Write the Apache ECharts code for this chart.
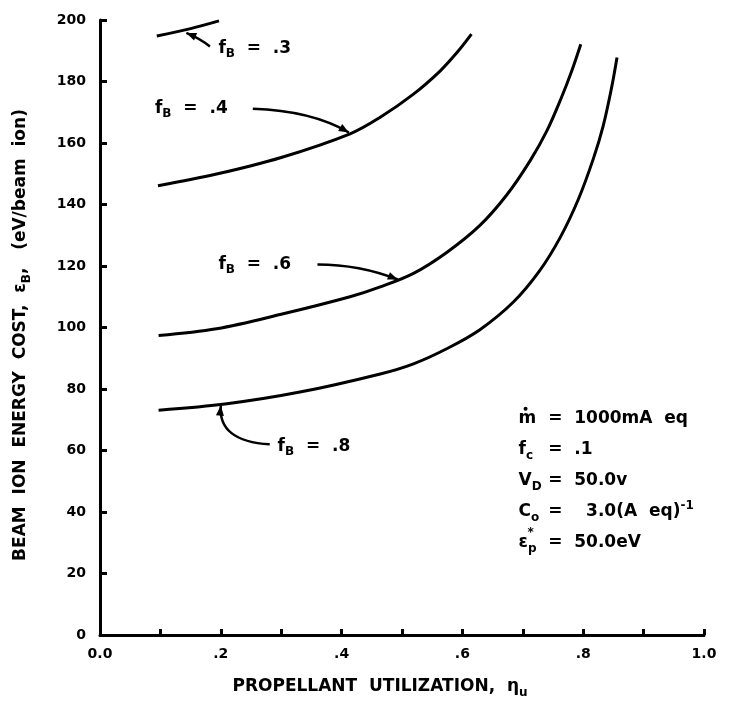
<!DOCTYPE html>
<html>
<head>
<meta charset="utf-8">
<script src="https://cdn.jsdelivr.net/npm/echarts@6/dist/echarts.min.js"></script>
<style>html,body{margin:0;padding:0;background:#fff}#c{width:737px;height:704px}</style>
</head>
<body>
<div id="c"></div>
<script>
// ---- data ----
const xTicks = [0.0, 0.2, 0.4, 0.6, 0.8, 1.0];
const xTickLabels = ['0.0', '.2', '.4', '.6', '.8', '1.0'];
const yTicks = [0, 20, 40, 60, 80, 100, 120, 140, 160, 180, 200];

const fB3_x = [0.094, 0.15, 0.197];
const fB3_y = [194.8, 197.2, 199.7];

const fB4_x = [0.096, 0.193, 0.30, 0.414, 0.464, 0.519, 0.563, 0.591, 0.615];
const fB4_y = [146.1, 149.9, 155.3, 163.0, 168.4, 175.9, 183.4, 189.4, 195.4];

const fB6_x = [0.097, 0.193, 0.30, 0.414, 0.464, 0.519, 0.574, 0.629, 0.673, 0.712, 0.740, 0.764, 0.781, 0.796];
const fB6_y = [97.4, 99.6, 104.3, 110.0, 113.2, 117.6, 124.4, 133.2, 143.0, 154.2, 164.0, 174.8, 183.4, 192.1];

const fB8_x = [0.097, 0.21, 0.331, 0.464, 0.519, 0.574, 0.629, 0.684, 0.728, 0.762, 0.792, 0.817, 0.833, 0.847, 0.856];
const fB8_y = [73.1, 75.2, 79.0, 84.9, 88.2, 93.1, 99.3, 108.2, 118.5, 129.3, 141.7, 155.0, 165.5, 178.0, 187.8];

const curveNames = ['.3', '.4', '.6', '.8'];

const paramSymbols = [['m', ''], ['f', 'c'], ['V', 'D'], ['C', 'o'], ['ε', 'p']];
const paramValues = ['=  1000mA  eq', '=  .1', '=  50.0v', '=    3.0(A  eq)', '=  50.0eV'];

// ---- chart ----
const FONT = '"DejaVu Sans", sans-serif';
const chart = echarts.init(document.getElementById('c'));
function zip(xs, ys) { return xs.map((x, i) => [x, ys[i]]); }
function line(name, xs, ys) {
  return {
    name: name, type: 'line', data: zip(xs, ys), smooth: 0.35, showSymbol: false,
    lineStyle: { color: '#000', width: 3 }, silent: true, animation: false
  };
}
chart.setOption({
  animation: false,
  backgroundColor: '#fff',
  grid: { left: 100, right: 33, top: 20, bottom: 69 },
  xAxis: {
    type: 'value', min: 0, max: 1, interval: 0.1,
    axisLine: { lineStyle: { color: '#000', width: 3 } },
    axisTick: { inside: true, length: 6, lineStyle: { color: '#000', width: 3 } },
    splitLine: { show: false },
    axisLabel: {
      color: '#000', fontFamily: FONT, fontWeight: 'bold', fontSize: 14, margin: 12,
      formatter: function (v) {
        const k = Math.round(v * 10);
        if (k % 2) return '';
        const idx = xTicks.findIndex(t => Math.abs(t - v) < 1e-6);
        return idx >= 0 ? xTickLabels[idx] : '';
      }
    }
  },
  yAxis: {
    type: 'value', min: yTicks[0], max: yTicks[yTicks.length - 1], interval: 20,
    axisLine: { show: true, lineStyle: { color: '#000', width: 3 } },
    axisTick: { show: true, inside: true, length: 7, lineStyle: { color: '#000', width: 3 } },
    splitLine: { show: false },
    axisLabel: { color: '#000', fontFamily: FONT, fontWeight: 'bold', fontSize: 14, margin: 14 }
  },
  series: [
    line('fB=.3', fB3_x, fB3_y),
    line('fB=.4', fB4_x, fB4_y),
    line('fB=.6', fB6_x, fB6_y),
    line('fB=.8', fB8_x, fB8_y)
  ]
});

// annotations (positioned in data coordinates)
const labelAnchors = [[0.196, 190.8], [0.091, 171.3], [0.196, 120.6], [0.294, 61.4]];
const arrows = [
  { from: [0.182, 191.4], ctrl: [0.165, 194.0], to: [0.143, 195.8] },
  { from: [0.253, 171.1], ctrl: [0.35, 170.5], to: [0.412, 163.4] },
  { from: [0.36, 120.5], ctrl: [0.43, 120.5], to: [0.493, 115.6] },
  { from: [0.281, 62.0], ctrl: [0.195, 63.0], to: [0.2, 74.6] }
];
const P = p => chart.convertToPixel({ gridIndex: 0 }, p);
const rich = {
  b: { fontFamily: FONT, fontWeight: 'bold', fontSize: 17, color: '#000', lineHeight: 24, verticalAlign: 'middle' },
  s: { fontFamily: FONT, fontWeight: 'bold', fontSize: 12, color: '#000', lineHeight: 24, verticalAlign: 'bottom' },
  u: { fontFamily: FONT, fontWeight: 'bold', fontSize: 12, color: '#000', lineHeight: 24, verticalAlign: 'top' },
  t: { fontFamily: FONT, fontWeight: 'bold', fontSize: 17, color: '#000', lineHeight: 24, verticalAlign: 'middle' },
  ts: { fontFamily: FONT, fontWeight: 'bold', fontSize: 12, color: '#000', lineHeight: 24, verticalAlign: 'bottom' }
};
const g = [];
curveNames.forEach((n, i) => {
  const p = P(labelAnchors[i]);
  g.push({ type: 'text', x: p[0], y: p[1], style: { text: '{b|f}{s|B}{b|  =  ' + n + '}', rich: rich, verticalAlign: 'middle', align: 'left' } });
});
arrows.forEach(a => {
  const f = P(a.from), c = P(a.ctrl), t = P(a.to);
  g.push({ type: 'bezierCurve', shape: { x1: f[0], y1: f[1], x2: t[0], y2: t[1], cpx1: c[0], cpy1: c[1] }, style: { stroke: '#000', lineWidth: 2.5, fill: null } });
  const ang = Math.atan2(t[1] - c[1], t[0] - c[0]);
  const L = 10, W = 4;
  const bx = t[0] - L * Math.cos(ang), by = t[1] - L * Math.sin(ang);
  g.push({ type: 'polygon', shape: { points: [[t[0], t[1]], [bx + W * Math.sin(ang), by - W * Math.cos(ang)], [bx - W * Math.sin(ang), by + W * Math.cos(ang)]] }, style: { fill: '#000' } });
});
// parameter block
const pAnchor = P([0.693, 70.3]);
const eqAnchor = P([0.742, 70.3]);
paramSymbols.forEach((r, i) => {
  const y = pAnchor[1] + i * 31;
  g.push({ type: 'text', x: pAnchor[0], y: y, style: { text: '{b|' + r[0] + '}' + (r[1] ? '{s|' + r[1] + '}' : ''), rich: rich, verticalAlign: 'middle', align: 'left' } });
  g.push({ type: 'text', x: eqAnchor[0], y: y, style: { text: '{b|' + paramValues[i] + '}' + (i === 3 ? '{u|-1}' : ''), rich: rich, verticalAlign: 'middle', align: 'left' } });
});
// dot over m and asterisk over epsilon
g.push({ type: 'circle', shape: { cx: pAnchor[0] + 7, cy: pAnchor[1] - 10, r: 2 }, style: { fill: '#000' } });
g.push({ type: 'text', x: pAnchor[0] + 9, y: pAnchor[1] + 4 * 31 - 10, style: { text: '*', fontFamily: FONT, fontWeight: 'bold', fontSize: 12, fill: '#000', align: 'left', verticalAlign: 'middle' } });
// axis titles
g.push({ type: 'text', x: 21, y: 335, rotation: Math.PI / 2,
  style: { text: '{t|BEAM  ION  ENERGY  COST,  ε}{ts|B}{t|,   (eV/beam  ion)}', rich: rich, align: 'center', verticalAlign: 'middle' } });
g.push({ type: 'text', x: 380, y: 687,
  style: { text: '{t|PROPELLANT  UTILIZATION,  η}{ts|u}', rich: rich, align: 'center', verticalAlign: 'middle' } });
chart.setOption({ graphic: g });
</script>
</body>
</html>
